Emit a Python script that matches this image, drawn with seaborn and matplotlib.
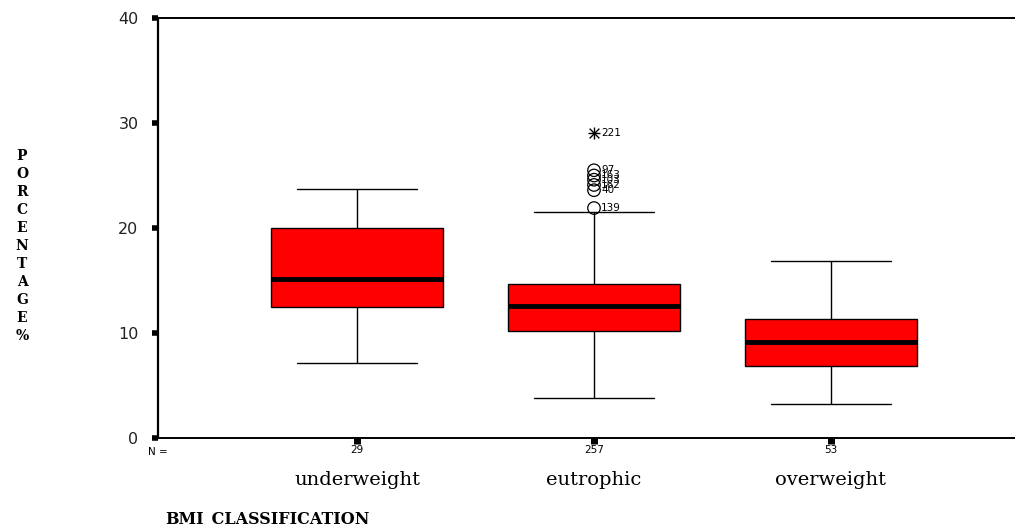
import numpy as np
import pandas as pd
import matplotlib
matplotlib.use("Agg")
import matplotlib.pyplot as plt
import matplotlib.transforms as mtransforms
import seaborn as sns

# Box summaries per BMI class (percentage)
categories = ["underweight", "eutrophic", "overweight"]
n_cases = [29, 257, 53]
whisker_low = [7.1, 3.8, 3.2]
q1 = [12.5, 10.2, 6.9]
median = [15.1, 12.6, 9.1]
q3 = [20.0, 14.7, 11.3]
whisker_high = [23.7, 21.5, 16.9]

# Flagged cases in the eutrophic group
outlier_values = [25.5, 25.0, 24.6, 24.1, 23.6, 21.9]
outlier_ids = ["97", "163", "103", "162", "40", "139"]
extreme_values = [29.05]
extreme_ids = ["221"]

BOX_WIDTH = 0.726
CAP_FRACTION = 0.70

sns.set_theme(style="white")
plt.rcParams["font.family"] = ["DejaVu Sans"]

rows = []
for cat, a, b, c, d, e in zip(categories, whisker_low, q1, median, q3, whisker_high):
    for v in (a, b, c, d, e):
        rows.append({"bmi": cat, "pct": v})
summary = pd.DataFrame(rows)

out_df = pd.DataFrame({"bmi": ["eutrophic"] * len(outlier_values),
                       "pct": outlier_values, "case": outlier_ids})
ext_df = pd.DataFrame({"bmi": ["eutrophic"] * len(extreme_values),
                       "pct": extreme_values, "case": extreme_ids})

fig = plt.figure(figsize=(10.15, 5.26), dpi=100)
ax = fig.add_axes([158 / 1015, 88 / 526, 872 / 1015, 420 / 526])

sns.boxplot(data=summary, x="bmi", y="pct", order=categories, ax=ax,
            whis=(0, 100), width=BOX_WIDTH, color="#ff0000", saturation=1,
            linecolor="black", linewidth=1, showfliers=False,
            medianprops={"linewidth": 3.5, "color": "black"})

# widen the whisker caps
for ln in ax.lines:
    xd = np.asarray(ln.get_xdata(), dtype=float)
    yd = np.asarray(ln.get_ydata(), dtype=float)
    if len(xd) == 2 and yd[0] == yd[1]:
        span = xd[1] - xd[0]
        if abs(abs(span) - BOX_WIDTH) > 0.05:
            mid = xd.mean()
            half = BOX_WIDTH * CAP_FRACTION / 2
            ln.set_xdata([mid - half, mid + half])

sns.stripplot(data=out_df, x="bmi", y="pct", order=categories, ax=ax,
              jitter=False, marker="o", s=9, color="black",
              facecolor="none", edgecolor="black", linewidth=0.9)
sns.stripplot(data=ext_df, x="bmi", y="pct", order=categories, ax=ax,
              jitter=False, marker="x", s=7, color="black", linewidth=1)
sns.stripplot(data=ext_df, x="bmi", y="pct", order=categories, ax=ax,
              jitter=False, marker="+", s=9, color="black", linewidth=1)

for df in (out_df, ext_df):
    for _, r in df.iterrows():
        ax.annotate(r["case"], xy=(categories.index(r["bmi"]), r["pct"]),
                    xytext=(5, 0), textcoords="offset points",
                    fontsize=7.5, va="center", ha="left", color="black")

ax.set_xlim(-0.84, 2.84)
ax.set_ylim(0, 40)
ax.set_yticks([0, 10, 20, 30, 40])
ax.set_xticks(range(len(categories)))
ax.set_xticklabels([str(n) for n in n_cases], fontsize=7.5)
ax.set_xlabel("")
ax.set_ylabel("")

for side in ("left", "bottom", "top", "right"):
    ax.spines[side].set_visible(True)
    ax.spines[side].set_color("black")
ax.spines["left"].set_linewidth(1.6)
ax.spines["bottom"].set_linewidth(1.4)
ax.spines["top"].set_linewidth(1.4)

ax.tick_params(axis="y", direction="out", length=4, width=4, pad=10,
               labelsize=11.5, colors="black", left=True)
ax.tick_params(axis="x", direction="out", length=4, width=5, pad=1,
               colors="black", bottom=True)
for t in ax.get_yticklabels():
    t.set_color("#222222")

blend = mtransforms.blended_transform_factory(ax.transData, ax.transAxes)
for i, cat in enumerate(categories):
    ax.text(i, -0.1, cat, transform=blend, ha="center", va="center",
            fontsize=14, family="DejaVu Serif", color="black")

ax.text(0.0, -0.034, "N =", transform=ax.transAxes, ha="center", va="center",
        fontsize=7.5, color="black")

fig.text(165 / 1015, 1 - 519 / 526, "BMI_CLASSIFICATION", ha="left", va="center",
         fontsize=11.5, family="DejaVu Serif", weight="bold", color="black")

fig.text(22 / 1015, 1 - 246 / 526, "\n".join("PORCENTAGE%"), ha="center",
         va="center", fontsize=10, family="DejaVu Serif", weight="bold",
         linespacing=1.36, color="black")

fig.savefig("out.png", dpi=100)
